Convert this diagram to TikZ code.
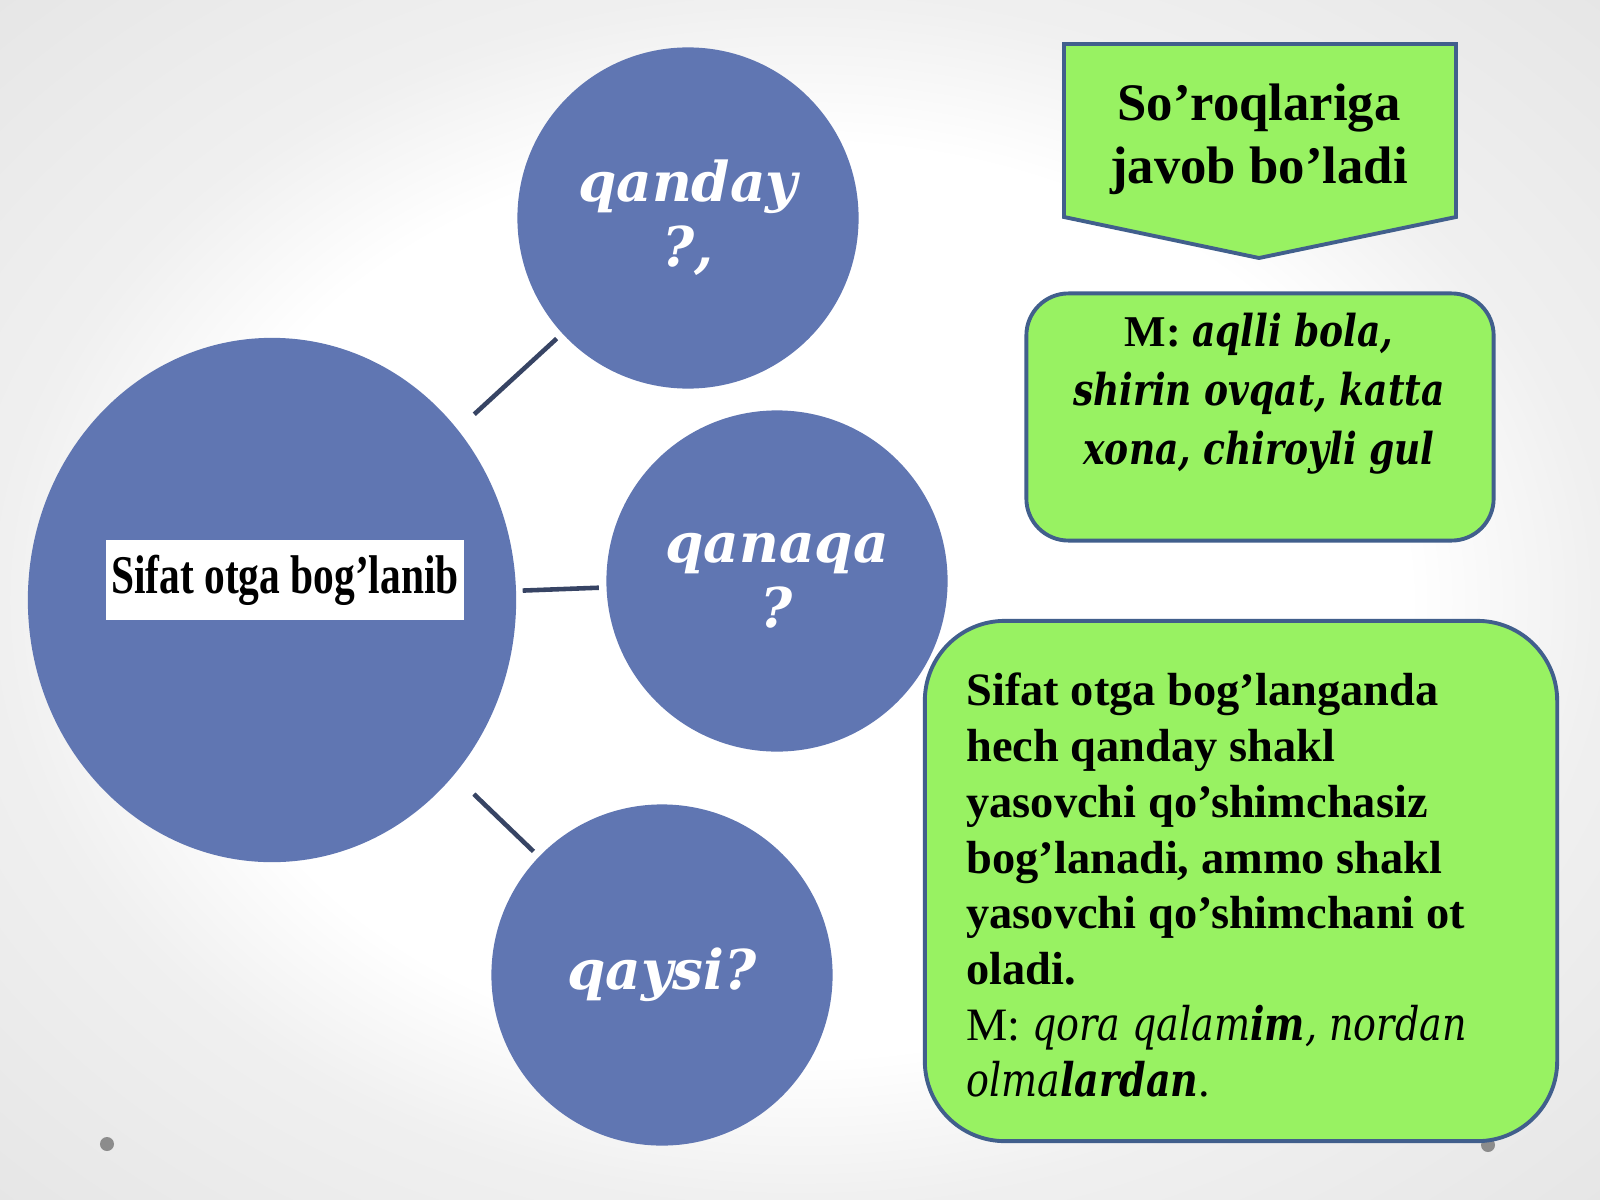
\documentclass[tikz,border=0pt]{standalone}
\usepackage{fontspec}
\setmainfont{Liberation Serif}
\newfontfamily\dvs{DejaVu Serif}
\newfontfamily\dvsn[FakeStretch=0.82]{DejaVu Serif}
\usetikzlibrary{shapes.geometric}
\definecolor{circblue}{RGB}{96,118,178}
\definecolor{boxgreen}{RGB}{152,242,98}
\definecolor{boxline}{RGB}{65,95,140}
\definecolor{linkgray}{RGB}{55,68,100}
\pgfdeclareradialshading{slidebg}{\pgfpoint{0bp}{0bp}}{color(0bp)=(white);
  color(19bp)=(white); color(25bp)=(black!6); color(50bp)=(black!15)}

\begin{document}
\begin{tikzpicture}[x=0.01cm,y=-0.01cm,
    bubble/.style={circle,fill=circblue,minimum size=3.41cm,inner sep=0pt,
      text=white,align=center,font=\dvs\bfseries\itshape\fontsize{15.6}{18.5}\selectfont},
    link/.style={draw=linkgray,line width=1.3pt,shorten >=0.07cm},
    greenbox/.style={draw=boxline,fill=boxgreen,line width=1.1pt},
    dot/.style={circle,fill=black!45,minimum size=0.14cm,inner sep=0pt}]
  \useasboundingbox (0,0) rectangle (1600,1200);
  \shade[shading=slidebg] (0,0) rectangle (1600,1200);
  \node[dot] (dotl) at (107,1144) {};
  \node[dot] (dotr) at (1488,1145) {};
  % left part
  \node[ellipse,fill=circblue,minimum width=4.88cm,minimum height=5.24cm,
    inner sep=0pt] (sifat) at (272,600) {};
  \node[fill=white,minimum width=3.57cm,minimum height=0.79cm,inner sep=0.02cm,
    font=\bfseries\fontsize{15.5}{18}\selectfont] (sifatlabel) at (285,580)
    {\scalebox{0.76}[1]{Sifat otga bog'lanib}};
  \node[bubble] (qanday) at (688,218) {qanday\\?,};
  \node[bubble] (qanaqa) at (777,581) {qanaqa\\?};
  \node[bubble] (qaysi) at (662,975) {qaysi?};
  \path (sifat) edge[link,shorten <=0.22cm] (qanday)
  edge[link,shorten <=0.06cm] (qanaqa)
  edge[link,shorten <=0.27cm] (qaysi);
  % right part
  \draw[greenbox] (1064,44) -- (1456,44) -- (1456,217) -- (1259,258)
    -- (1064,217) -- cycle;
  \node[align=center,font=\bfseries\fontsize{15}{18}\selectfont] (soroq)
    at (1259,139) {So'roqlariga\\javob bo'ladi};
  \node[greenbox,rounded corners=0.42cm,minimum width=4.67cm,
    minimum height=2.47cm] (misolbox) at (1260,417) {};
  \node[align=center,font=\fontsize{12.5}{16.8}\selectfont] (misol) at (1259,394)
    {\textbf{M:} {\dvsn\bfseries\itshape aqlli bola,}\\
     {\dvsn\bfseries\itshape shirin ovqat, katta}\\
     {\dvsn\bfseries\itshape xona, chiroyli gul}\hspace{0.4em}};
  \node[greenbox,rounded corners=0.8cm,minimum width=6.32cm,
    minimum height=5.2cm] (izohbox) at (1241,881) {};
  \node[anchor=west,align=left,font=\fontsize{13.2}{15.9}\selectfont] (izoh)
    at (954,885)
    {\textbf{Sifat otga bog'langanda}\\
     \textbf{hech qanday shakl}\\
     \textbf{yasovchi qo'shimchasiz}\\
     \textbf{bog'lanadi, ammo shakl}\\
     \textbf{yasovchi qo'shimchani ot}\\
     \textbf{oladi.}\\
     M: {\dvsn\itshape qora qalam{\bfseries im}, nordan}\\
     {\dvsn\itshape olma{\bfseries lardan}}.};
\end{tikzpicture}
\end{document}
